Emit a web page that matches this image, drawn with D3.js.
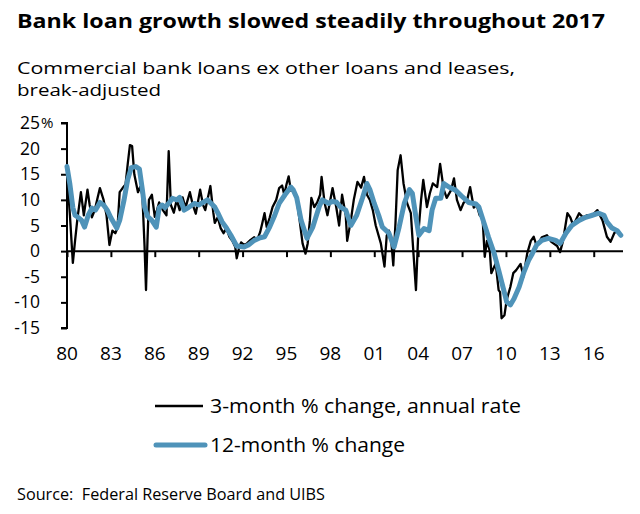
<!DOCTYPE html>
<html><head><meta charset="utf-8">
<script src="https://cdn.jsdelivr.net/npm/d3@7"></script>
<style>body{margin:0;background:#fff}svg{display:block}text{font-family:"Open Sans","Noto Sans",sans-serif;fill:#000}</style>
</head><body><svg id="c" width="640" height="514"></svg>
<script>
const title = "Bank loan growth slowed steadily throughout 2017";
const subtitle = ["Commercial bank loans ex other loans and leases,", "break-adjusted"];
const legendLabels = ["3-month % change, annual rate", "12-month % change"];
const source = "Source:\u00a0\u00a0Federal Reserve Board and UIBS";
const yTicks = [25, 20, 15, 10, 5, 0, -5, -10, -15];
const xTickYears = [1980, 1983, 1986, 1989, 1992, 1995, 1998, 2001, 2004, 2007, 2010, 2013, 2016];
const xTickLabels = ["80","83","86","89","92","95","98","01","04","07","10","13","16"];

// 3-month % change, annual rate: [fractional year, value]
const threeMonth = [
[1980.0,15],[1980.2,7],[1980.4,-2.3],[1980.55,2],[1980.7,6],[1980.95,11.5],[1981.15,7],[1981.4,12],[1981.55,9],[1981.7,6.6],[1981.9,8],
[1982.1,10.5],[1982.25,12.3],[1982.5,10],[1982.7,7],[1982.9,1.2],[1983.1,4],[1983.3,3.5],[1983.45,4.5],[1983.6,11.5],[1983.8,12.3],
[1984.0,13],[1984.15,17],[1984.3,20.7],[1984.45,20.5],[1984.6,15],[1984.85,11.5],[1985.0,12.5],[1985.15,11],[1985.3,1],[1985.4,-7.6],
[1985.5,2],[1985.6,10],[1985.8,11],[1986.0,6.7],[1986.15,8],[1986.3,9.5],[1986.55,8],[1986.8,7],[1986.95,19.5],[1987.1,9],[1987.3,7.5],
[1987.5,10],[1987.7,8],[1987.9,10.5],[1988.1,8.5],[1988.4,11.5],[1988.6,9],[1988.8,7.3],[1989.1,12],[1989.3,9],[1989.45,8],[1989.8,12.7],
[1990.0,7.5],[1990.1,5.5],[1990.3,6.6],[1990.5,4.5],[1990.7,3.5],[1990.9,4.5],[1991.1,2.8],[1991.3,2],[1991.5,0.8],[1991.6,-1.4],
[1991.75,0.5],[1991.9,1.7],[1992.1,1.2],[1992.3,1.5],[1992.55,2.2],[1992.8,2.7],[1993.0,2.2],[1993.2,3.7],[1993.35,5.5],[1993.5,7.4],
[1993.65,4.7],[1993.85,6.5],[1994.05,8.6],[1994.3,10],[1994.5,12.3],[1994.7,12.8],[1994.85,11],[1995.0,13],[1995.15,14.6],[1995.3,11.8],
[1995.5,12],[1995.7,10],[1995.9,6],[1996.1,1.5],[1996.3,-0.5],[1996.45,1.5],[1996.6,6],[1996.7,10.4],[1996.9,8.6],[1997.1,9.5],[1997.3,11],
[1997.4,14.5],[1997.6,9.5],[1997.8,7],[1998.15,12.3],[1998.4,8.6],[1998.6,5],[1998.8,11],[1999.05,7],[1999.15,2],[1999.4,6],[1999.6,10],
[1999.85,13.5],[2000.1,12.4],[2000.3,14.5],[2000.5,11],[2000.7,10],[2000.9,8],[2001.1,5],[2001.45,1.5],[2001.7,-3],[2001.85,3],[2002.0,4],
[2002.15,2.5],[2002.3,-2.8],[2002.45,5.5],[2002.6,15.8],[2002.8,18.7],[2003.0,13.2],[2003.25,9.3],[2003.5,7.4],[2003.65,0.8],[2003.85,-7.6],
[2004.0,3],[2004.2,10],[2004.35,13.9],[2004.6,8.6],[2004.8,11.3],[2005.0,13.2],[2005.3,12.5],[2005.5,17],[2005.75,12],[2005.95,10.4],
[2006.25,11.9],[2006.45,14.2],[2006.65,10],[2006.9,8],[2007.1,9.4],[2007.35,10],[2007.55,12.5],[2007.8,8.5],[2008.0,9],[2008.2,7],
[2008.4,6.6],[2008.55,-1.1],[2008.7,2],[2008.9,0],[2009.0,-4.3],[2009.3,-2.4],[2009.5,-7.6],[2009.6,-8],[2009.7,-13.1],[2009.9,-12.5],
[2010.05,-9.5],[2010.3,-7],[2010.5,-4.3],[2010.7,-3.7],[2011.0,-2.5],[2011.2,-5],[2011.45,-0.5],[2011.7,2],[2011.9,2.8],[2012.1,1],
[2012.45,2.7],[2012.8,3.1],[2013.1,1.8],[2013.5,1],[2013.7,-0.2],[2013.9,2],[2014.2,7.4],[2014.4,6.6],[2014.6,5],[2015.0,7.4],
[2015.25,6.6],[2015.55,7],[2015.9,7],[2016.25,8],[2016.6,6],[2016.9,2.8],[2017.15,1.8],[2017.4,3.5],[2017.6,4],[2017.85,3]
];

// 12-month % change: [fractional year, value]
const twelveMonth = [
[1980.0,16.5],[1980.2,13],[1980.4,8.5],[1980.55,7],[1980.8,6.5],[1981.0,6],[1981.2,4.7],[1981.45,7],[1981.7,8.4],[1981.95,8],
[1982.25,9.5],[1982.5,9],[1982.75,8],[1983.0,6.5],[1983.4,4.5],[1983.6,6],[1983.9,10],[1984.15,14],[1984.4,16.3],[1984.7,16.5],
[1984.95,16],[1985.15,12],[1985.3,8.6],[1985.5,6.8],[1985.8,6],[1986.1,4.7],[1986.3,8.5],[1986.5,9],[1986.7,8.5],[1987.0,9.5],
[1987.2,10.3],[1987.5,10],[1987.7,10.5],[1988.0,8],[1988.3,8.5],[1988.7,9.3],[1989.0,9],[1989.3,9.5],[1989.6,10],[1990.1,8.6],
[1990.3,7.5],[1990.6,5.7],[1990.9,4.5],[1991.2,3.1],[1991.6,1],[1992.1,0.8],[1992.4,1.2],[1992.8,2.1],[1993.2,2.6],[1993.5,2.8],
[1993.85,4.7],[1994.2,7],[1994.5,9.3],[1994.9,11],[1995.3,12.5],[1995.45,12],[1995.7,10.4],[1996.0,6],[1996.4,2.5],[1996.8,4.7],
[1997.25,8.8],[1997.45,10],[1997.9,9.3],[1998.1,9.7],[1998.4,9.6],[1998.7,8.6],[1999.05,8],[1999.4,5],[1999.8,7],[2000.2,10.4],
[2000.5,13.2],[2000.7,12],[2001.0,9.3],[2001.3,7],[2001.55,4.7],[2002.0,3.5],[2002.35,0.8],[2002.7,4.7],[2003.05,9.3],[2003.4,12],
[2003.6,11.3],[2003.85,6.6],[2004.05,3.1],[2004.4,4.4],[2004.75,4],[2004.95,8],[2005.2,10.3],[2005.55,10.3],[2005.75,13.2],[2006.1,12.5],
[2006.55,11.9],[2006.95,10.8],[2007.45,9.5],[2007.95,9.2],[2008.15,8.6],[2008.5,5.5],[2008.8,2.8],[2009.2,-0.5],[2009.5,-3.7],
[2009.85,-7.6],[2010.05,-9.9],[2010.3,-10.5],[2010.55,-9.3],[2010.9,-7],[2011.2,-4.3],[2011.55,-1.8],[2011.8,-0.5],[2012.1,1.2],
[2012.45,2.1],[2012.9,2.5],[2013.4,2.1],[2013.7,1.5],[2014.1,3.5],[2014.5,5],[2015.0,6],[2015.45,6.6],[2015.9,7],[2016.35,7.4],
[2016.7,7],[2016.9,5.7],[2017.25,4.5],[2017.6,4],[2017.85,3.1]
];

const svg = d3.select("#c");
const x = d3.scaleLinear().domain([1980, 2018]).range([67, 623]);
const y = d3.scaleLinear().domain([-15, 25]).range([328, 123]);
const blue = "#4f93b9";

function addText(xp, yp, size, str, width, bold) {
  const t = svg.append("text").attr("x", xp).attr("y", yp).attr("font-size", size).text(str);
  if (bold) t.attr("font-weight", "bold");
  if (width) t.attr("textLength", width).attr("lengthAdjust", "spacingAndGlyphs");
  return t;
}

addText(17, 28, 19, title, 588, true);
addText(17, 74, 16, subtitle[0], 498);
addText(17, 96, 16, subtitle[1], 144);

// y axis
const yAxis = svg.append("g").attr("transform", "translate(67,0)")
  .call(d3.axisLeft(y).tickValues(yTicks).tickSize(6).tickPadding(21).tickFormat(d => d));
yAxis.attr("font-family", null).attr("font-size", null);
yAxis.select(".domain").attr("stroke", "#000").attr("stroke-width", 2).attr("d", `M-6,${y(25)}H0V${y(-15)}H-6`);
yAxis.selectAll(".tick line").attr("stroke", "#000").attr("stroke-width", 2);
yAxis.selectAll(".tick text").attr("font-size", 17.5).attr("fill", "#000");
yAxis.selectAll(".tick").filter(d => d === 25).append("text")
  .attr("x", -26).attr("dy", "0.32em").attr("font-size", 15).attr("text-anchor", "start").attr("fill", "#000").text("%");

// zero line with ticks
const xAxis = svg.append("g").attr("transform", `translate(0,${y(0)})`)
  .call(d3.axisBottom(x).tickValues(xTickYears).tickSize(6).tickFormat(() => ""));
xAxis.select(".domain").attr("stroke", "#000").attr("stroke-width", 2).attr("d", `M${x(1980)},0H${x(2018)}`);
xAxis.selectAll(".tick line").attr("stroke", "#000").attr("stroke-width", 2);

// x labels below plot
svg.append("g").selectAll("text").data(xTickYears).join("text")
  .attr("x", d => x(d)).attr("y", 360).attr("text-anchor", "middle").attr("font-size", 19)
  .text((d, i) => xTickLabels[i]);

const line = d3.line().x(d => x(d[0])).y(d => y(d[1])).curve(d3.curveLinear);
svg.append("path").datum(threeMonth).attr("d", line).attr("fill", "none").attr("stroke", "#000").attr("stroke-width", 2.3).attr("stroke-linejoin", "round");
svg.append("path").datum(twelveMonth).attr("d", line).attr("fill", "none").attr("stroke", blue).attr("stroke-width", 5).attr("stroke-linejoin", "round").attr("stroke-linecap", "round");

// legend
svg.append("line").attr("x1", 155).attr("x2", 203).attr("y1", 406).attr("y2", 406).attr("stroke", "#000").attr("stroke-width", 2.5);
addText(210, 413, 19.5, legendLabels[0], 311);
svg.append("line").attr("x1", 156).attr("x2", 205).attr("y1", 445).attr("y2", 445).attr("stroke", blue).attr("stroke-width", 5).attr("stroke-linecap", "round");
addText(210, 452, 19.5, legendLabels[1], 195);

addText(17, 500, 15.5, source, 308);
</script></body></html>
